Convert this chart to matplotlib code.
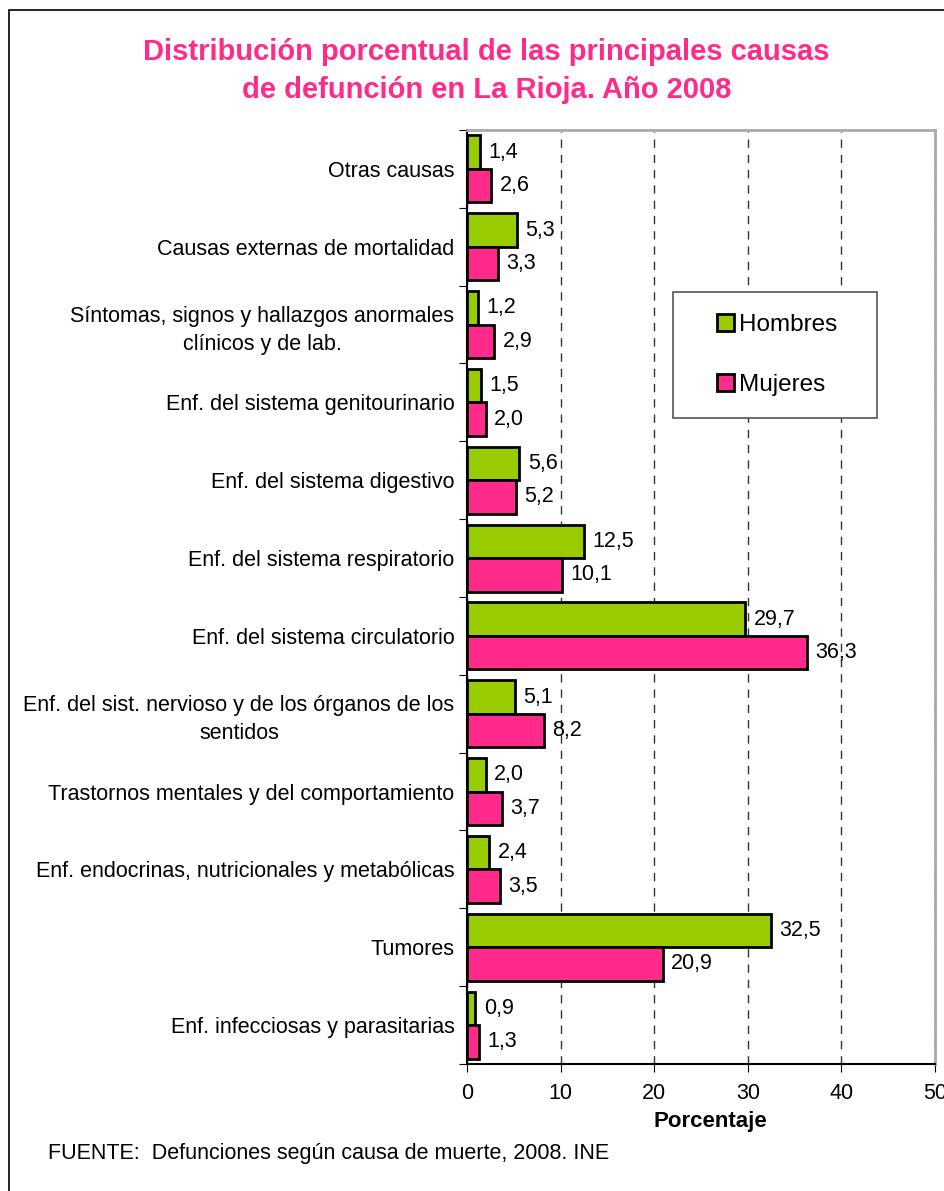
import matplotlib.pyplot as plt
import numpy as np
from matplotlib.patches import Rectangle

plt.rcParams['font.family'] = ['Liberation Sans', 'DejaVu Sans']

# categories from bottom to top
causas = ['Enf. infecciosas y parasitarias',
          'Tumores',
          'Enf. endocrinas, nutricionales y metabólicas',
          'Trastornos mentales y del comportamiento',
          'Enf. del sist. nervioso y de los órganos de los\nsentidos',
          'Enf. del sistema circulatorio',
          'Enf. del sistema respiratorio',
          'Enf. del sistema digestivo',
          'Enf. del sistema genitourinario',
          'Síntomas, signos y hallazgos anormales\nclínicos y de lab.',
          'Causas externas de mortalidad',
          'Otras causas']
hombres = [0.9, 32.5, 2.4, 2.0, 5.1, 29.7, 12.5, 5.6, 1.5, 1.2, 5.3, 1.4]
mujeres = [1.3, 20.9, 3.5, 3.7, 8.2, 36.3, 10.1, 5.2, 2.0, 2.9, 3.3, 2.6]
xticks = [0, 10, 20, 30, 40, 50]

verde = '#99CC00'
rosa = '#FF2A8A'
fs = 15.5

fig = plt.figure(figsize=(9.45, 11.91), dpi=100)
ax = fig.add_axes([467/945, 1 - 1064/1191, 468/945, 934/1191])

# outer border
fig.patches.append(Rectangle((9/945, -0.1), 1.2, 1 - 10/1191 + 0.1, transform=fig.transFigure,
                             fill=False, edgecolor='black', linewidth=1.2))

y = np.arange(len(causas))
h = 0.43
ax.barh(y + h/2, hombres, height=h, color=verde, edgecolor='black', linewidth=2, label='Hombres', zorder=3)
ax.barh(y - h/2, mujeres, height=h, color=rosa, edgecolor='black', linewidth=2, label='Mujeres', zorder=3)

for i in range(len(causas)):
    ax.text(hombres[i] + 0.9, y[i] + h/2, ('%.1f' % hombres[i]).replace('.', ','),
            va='center', ha='left', fontsize=fs, zorder=4)
    ax.text(mujeres[i] + 0.9, y[i] - h/2, ('%.1f' % mujeres[i]).replace('.', ','),
            va='center', ha='left', fontsize=fs, zorder=4)

ax.set_xlim(0, 50)
ax.set_ylim(-0.5, len(causas) - 0.5)
ax.set_xticks(xticks)
ax.set_xticklabels([str(t) for t in xticks], fontsize=fs)
ax.set_yticks(np.arange(len(causas) + 1) - 0.5)
ax.set_yticklabels([])
ax.set_yticks(y, minor=True)
ax.set_yticklabels(causas, minor=True, fontsize=fs, multialignment='center', linespacing=1.45)
ax.tick_params(axis='y', which='minor', length=0, pad=9)
ax.tick_params(axis='y', which='major', length=6, direction='out')
ax.tick_params(axis='x', length=6, direction='out', pad=8)

ax.grid(axis='x', color='#333333', linestyle=(0, (6, 5)), linewidth=1, zorder=0)
ax.set_axisbelow(True)

ax.spines['left'].set_linewidth(1.5)
ax.spines['bottom'].set_linewidth(1.5)
ax.spines['top'].set_color('#aaaaaa')
ax.spines['right'].set_color('#aaaaaa')
ax.spines['top'].set_linewidth(2)
ax.spines['right'].set_linewidth(2)

ax.set_xlabel('Porcentaje', fontsize=16, fontweight='bold')
ax.xaxis.set_label_coords(0.52, -0.05)

# legend box
lx0, lx1 = (673 - 467) / 468, (877 - 467) / 468
ly0, ly1 = (1064 - 418) / 934, (1064 - 292) / 934
ax.add_patch(Rectangle((lx0, ly0), lx1 - lx0, ly1 - ly0, transform=ax.transAxes,
                       facecolor='white', edgecolor='#555555', linewidth=1.2, zorder=5))
leg = ax.legend(loc='center', bbox_to_anchor=(lx0 + 0.005, ly0, lx1 - lx0, ly1 - ly0),
                fontsize=17.5, frameon=False,
                handlelength=0.7, handleheight=0.7, handletextpad=0.2,
                labelspacing=1.55, borderpad=0, borderaxespad=0)
leg.set_zorder(6)

fig.text(0.515, 1 - 52/1191, 'Distribución porcentual de las principales causas',
         ha='center', va='center', fontsize=21, fontweight='bold', color=rosa)
fig.text(0.515, 1 - 90/1191, 'de defunción en La Rioja. Año 2008',
         ha='center', va='center', fontsize=21, fontweight='bold', color=rosa)
fig.text(48/945, 1 - 1153/1191, 'FUENTE:  Defunciones según causa de muerte, 2008. INE',
         ha='left', va='center', fontsize=fs)

fig.savefig('out.png', dpi=100)
